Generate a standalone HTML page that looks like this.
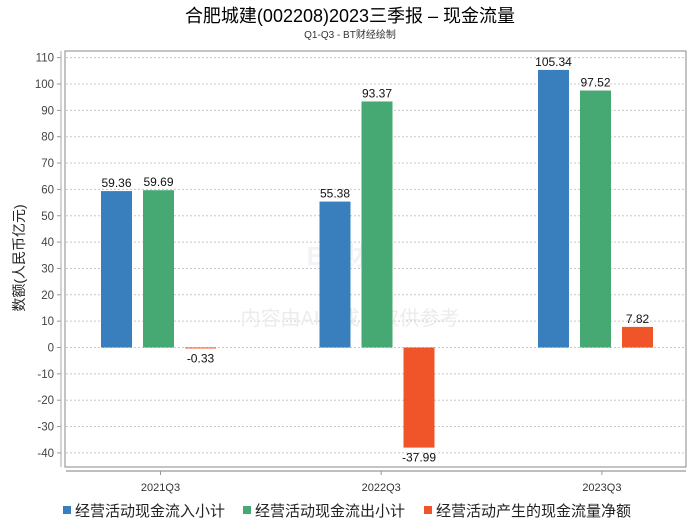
<!DOCTYPE html>
<html><head><meta charset="utf-8"><style>
body{margin:0;background:#fff}
svg text{font-family:"Liberation Sans","Noto Sans CJK SC",sans-serif}
</style></head><body>
<svg id="chart" width="700" height="524" xmlns="http://www.w3.org/2000/svg">
<text x="350" y="22" text-anchor="middle" font-size="18" fill="#000">合肥城建(002208)2023三季报 – 现金流量</text>
<text x="350" y="38" text-anchor="middle" font-size="10" fill="#333">Q1-Q3 - BT财经绘制</text>
<g id="grid"></g>
<text x="350" y="265" text-anchor="middle" font-size="26" font-weight="bold" fill="#f1f3f6">BT财经</text>
<text x="350" y="325" text-anchor="middle" font-size="20" fill="#ececec">内容由AI生成，仅供参考</text>
<rect x="65" y="51" width="621" height="416" fill="none" stroke="#888" stroke-width="1"/>
<line x1="66" y1="471" x2="686" y2="471" stroke="#aaa" stroke-width="1.5"/>
<line x1="61" y1="51" x2="61" y2="467" stroke="#aaa" stroke-width="1"/>
<g id="bars"></g>
<text transform="translate(24,258) rotate(-90)" text-anchor="middle" font-size="14" fill="#222">数额(人民币亿元)</text>
<g id="legend"></g>
</svg>
<script>
const categories=["2021Q3","2022Q3","2023Q3"];
const inflow=[59.36,55.38,105.34];
const outflow=[59.69,93.37,97.52];
const net=[-0.33,-37.99,7.82];
const yTicks=[110,100,90,80,70,60,50,40,30,20,10,0,-10,-20,-30,-40];
const seriesNames=["经营活动现金流入小计","经营活动现金流出小计","经营活动产生的现金流量净额"];
const colors=["#3a7fbd","#46a872","#ef5528"];
const NS="http://www.w3.org/2000/svg";
function y(v){return 347.5-v*2.635;}
function xc(i){return 158.5+i*218.5;}
function xt(i){return 160.5+i*220.7;}
function mk(tag,attrs,parent,text){const e=document.createElementNS(NS,tag);for(const k in attrs)e.setAttribute(k,attrs[k]);if(text!==undefined)e.textContent=text;parent.appendChild(e);return e;}
const grid=document.getElementById('grid');
yTicks.forEach(t=>{
 const l=mk('line',{x1:66,x2:686,y1:y(t),y2:y(t),stroke:'#c8c8c8','stroke-dasharray':'2,2'},grid);
 
 
 const tk=mk('line',{x1:57,x2:61,y1:y(t),y2:y(t),stroke:'#999'},grid);
 
 
 const tx=mk('text',{x:54,y:y(t)+4,'text-anchor':'end','font-size':11.5,fill:'#444'},grid,String(t));
 
 
});
const bars=document.getElementById('bars');
const series=[inflow,outflow,net];
categories.forEach((c,i)=>{
 series.forEach((s,j)=>{
  const v=s[i];const cx=xc(i)+(j-1)*42;
  const top=Math.min(y(v),y(0)),h=Math.max(Math.abs(y(v)-y(0)),1);
  const r=mk('rect',{x:cx-15.5,y:top,width:31,height:h,fill:colors[j]},bars);
  
  
  const ly=v>=0?y(v)-4:y(v)+14;
  const t=mk('text',{x:cx,y:ly,'text-anchor':'middle','font-size':12,fill:'#111'},bars,v.toFixed(2));
  
  
 });
 const tk=mk('line',{x1:xt(i),x2:xt(i),y1:471,y2:475,stroke:'#999'},bars);
 
 
 const lab=mk('text',{x:xt(i),y:491,'text-anchor':'middle','font-size':11,fill:'#333'},bars,c);
 
 
});
const lg=document.getElementById('legend');
const lx=[63,243,424];
seriesNames.forEach((n,j)=>{
 const g=mk('g',{},lg);
 
 
 mk('rect',{x:lx[j],y:506,width:8,height:8,fill:colors[j]},g);
 mk('text',{x:lx[j]+12,y:516,'font-size':15,fill:'#222'},g,n);
});
</script>
</body></html>
